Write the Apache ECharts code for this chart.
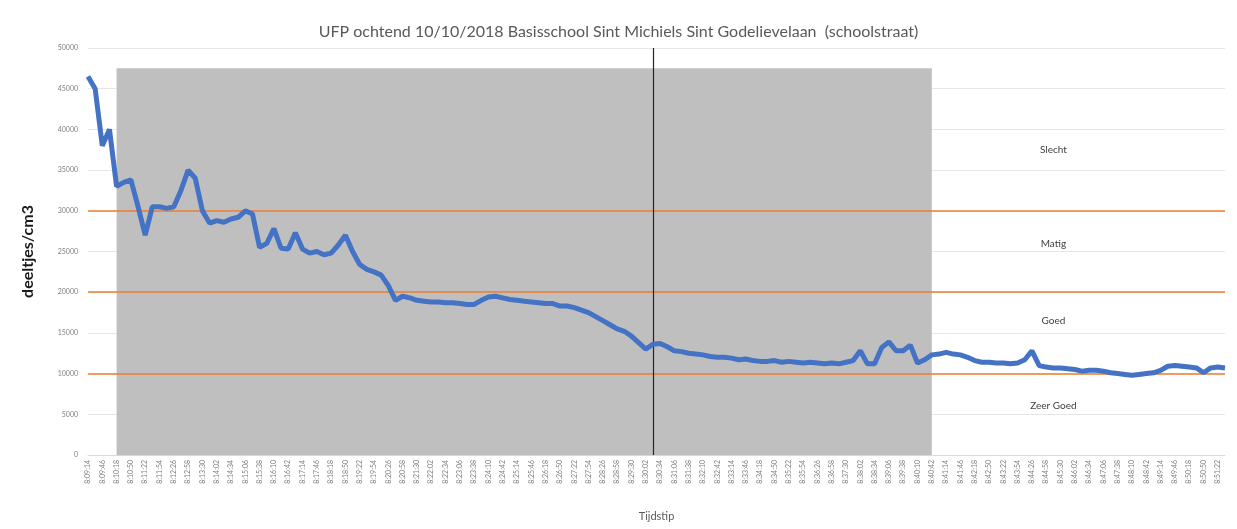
<!DOCTYPE html>
<html>
<head>
<meta charset="utf-8">
<script src="https://cdn.jsdelivr.net/npm/echarts@6/dist/echarts.min.js"></script>
<style>
  html, body { margin: 0; padding: 0; background: #fff; }
  #chart { width: 1237px; height: 529px; }
</style>
</head>
<body>
<div id="chart"></div>
<script>
// tijdstippen (16 s stappen), elke tweede krijgt een label
const times = [
  '8:09:14','8:09:30','8:09:46','8:10:02','8:10:18','8:10:34','8:10:50','8:11:06','8:11:22','8:11:38',
  '8:11:54','8:12:10','8:12:26','8:12:42','8:12:58','8:13:14','8:13:30','8:13:46','8:14:02','8:14:18',
  '8:14:34','8:14:50','8:15:06','8:15:22','8:15:38','8:15:54','8:16:10','8:16:26','8:16:42','8:16:58',
  '8:17:14','8:17:30','8:17:46','8:18:02','8:18:18','8:18:34','8:18:50','8:19:06','8:19:22','8:19:38',
  '8:19:54','8:20:10','8:20:26','8:20:42','8:20:58','8:21:14','8:21:30','8:21:46','8:22:02','8:22:18',
  '8:22:34','8:22:50','8:23:06','8:23:22','8:23:38','8:23:54','8:24:10','8:24:26','8:24:42','8:24:58',
  '8:25:14','8:25:30','8:25:46','8:26:02','8:26:18','8:26:34','8:26:50','8:27:06','8:27:22','8:27:38',
  '8:27:54','8:28:10','8:28:26','8:28:42','8:28:58','8:29:14','8:29:30','8:29:46','8:30:02','8:30:18',
  '8:30:34','8:30:50','8:31:06','8:31:22','8:31:38','8:31:54','8:32:10','8:32:26','8:32:42','8:32:58',
  '8:33:14','8:33:30','8:33:46','8:34:02','8:34:18','8:34:34','8:34:50','8:35:06','8:35:22','8:35:38',
  '8:35:54','8:36:10','8:36:26','8:36:42','8:36:58','8:37:14','8:37:30','8:37:46','8:38:02','8:38:18',
  '8:38:34','8:38:50','8:39:06','8:39:22','8:39:38','8:39:54','8:40:10','8:40:26','8:40:42','8:40:58',
  '8:41:14','8:41:30','8:41:46','8:42:02','8:42:18','8:42:34','8:42:50','8:43:06','8:43:22','8:43:38',
  '8:43:54','8:44:10','8:44:26','8:44:42','8:44:58','8:45:14','8:45:30','8:45:46','8:46:02','8:46:18',
  '8:46:34','8:46:50','8:47:06','8:47:22','8:47:38','8:47:54','8:48:10','8:48:26','8:48:42','8:48:58',
  '8:49:14','8:49:30','8:49:46','8:50:02','8:50:18','8:50:34','8:50:50','8:51:06','8:51:22','8:51:38'
]

// deeltjes/cm3
const ufp = [
  46500, 45000, 38000, 40000, 33000, 33500, 33800, 30500, 27000, 30500,
  30500, 30300, 30500, 32500, 35000, 34000, 30000, 28500, 28800, 28600,
  29000, 29200, 30000, 29600, 25500, 26000, 27800, 25400, 25300, 27300,
  25300, 24800, 25000, 24600, 24800, 25800, 27000, 25000, 23400, 22800,
  22500, 22100, 20800, 19000, 19500, 19300, 19000, 18900, 18800, 18800,
  18700, 18700, 18600, 18500, 18500, 19000, 19400, 19500, 19300, 19100,
  19000, 18900, 18800, 18700, 18600, 18600, 18300, 18300, 18100, 17800,
  17500, 17000, 16500, 16000, 15500, 15200, 14600, 13800, 13000, 13600,
  13700, 13300, 12800, 12700, 12500, 12400, 12300, 12100, 12000, 12000,
  11900, 11700, 11800, 11600, 11500, 11500, 11600, 11400, 11500, 11400,
  11300, 11400, 11300, 11200, 11300, 11200, 11400, 11600, 12800, 11200,
  11200, 13200, 13900, 12800, 12800, 13500, 11300, 11700, 12300, 12400,
  12600, 12400, 12300, 12000, 11600, 11400, 11400, 11300, 11300, 11200,
  11300, 11700, 12800, 11000, 10800, 10700, 10700, 10600, 10500, 10300,
  10400, 10400, 10300, 10100, 10000, 9900, 9800, 9900, 10000, 10100,
  10400, 10900, 11000, 10900, 10800, 10700, 10100, 10700, 10800, 10700
]

// grenzen tussen de klassen
const limits = [10000, 20000, 30000]
const classNames = ['Slecht', 'Matig', 'Goed', 'Zeer Goed']
const classLevels = [37500, 26000, 16500, 6000]
const classAt = '8:45:14'

// schoolstraat periode en moment van de verticale lijn
const greyStart = '8:10:18'
const greyEnd = '8:40:42'
const greyTop = 47500
const markTime = '8:30:18'

const chart = echarts.init(document.getElementById('chart'))

const option = {
  backgroundColor: '#fff',
  animation: false,
  textStyle: { fontFamily: 'Lato, "Open Sans", sans-serif' },
  title: {
    text: 'UFP ochtend 10/10/2018 Basisschool Sint Michiels Sint Godelievelaan  (schoolstraat)',
    left: 'center',
    top: 19,
    textStyle: { fontSize: 16, fontWeight: 'normal', color: '#595959' }
  },
  grid: { left: 88, right: 12, top: 48, bottom: 74 },
  xAxis: {
    type: 'category',
    data: times,
    boundaryGap: false,
    name: 'Tijdstip',
    nameLocation: 'middle',
    nameGap: 56,
    nameTextStyle: { fontSize: 11, color: '#595959' },
    axisLine: { lineStyle: { color: '#d9d9d9' } },
    axisTick: { show: false },
    axisLabel: { interval: 1, rotate: 90, fontSize: 7, color: '#7f7f7f', margin: 5 }
  },
  yAxis: {
    type: 'value',
    min: 0,
    max: 50000,
    interval: 5000,
    name: 'deeltjes/cm3',
    nameLocation: 'middle',
    nameGap: 52,
    nameTextStyle: { fontSize: 16, fontWeight: 'bold', color: '#1a1a1a' },
    axisLine: { show: false },
    axisTick: { show: false },
    axisLabel: { fontSize: 7, color: '#7f7f7f', margin: 10, formatter: v => String(v) },
    splitLine: { lineStyle: { color: '#e6e6e6' } }
  },
  series: [
    {
      type: 'line',
      data: ufp,
      symbol: 'none',
      lineStyle: { color: '#4472C4', width: 5 },
      itemStyle: { color: '#4472C4' },
      z: 5,
      markArea: {
        silent: true,
        itemStyle: { color: '#bfbfbf', opacity: 1 },
        data: [[{ xAxis: greyStart, yAxis: 0 }, { xAxis: greyEnd, yAxis: greyTop }]]
      },
      markLine: {
        silent: true,
        symbol: 'none',
        label: { show: false },
        data: limits.map(v => ({ yAxis: v, lineStyle: { color: '#ED7D31', width: 1.5, type: 'solid' } }))
          .concat([{ xAxis: markTime, lineStyle: { color: '#262626', width: 1.2, type: 'solid' } }])
      },
      markPoint: {
        silent: true,
        symbol: 'circle',
        symbolSize: 0,
        label: { show: true, position: 'inside', fontSize: 10, color: '#404040', formatter: p => p.name },
        data: classNames.map((n, i) => ({ name: n, coord: [classAt, classLevels[i]] }))
      }
    }
  ]
}

chart.setOption(option)
</script>
</body>
</html>
